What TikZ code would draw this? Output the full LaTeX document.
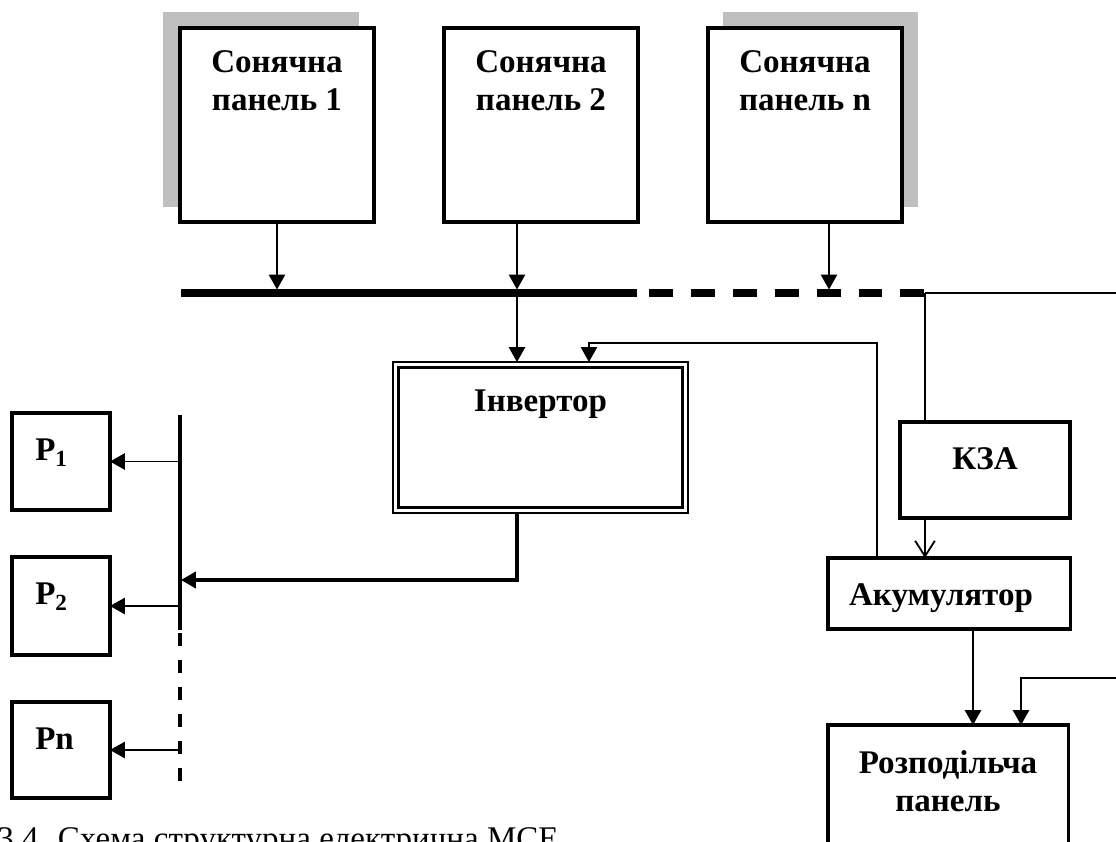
\documentclass[tikz,border=0pt]{standalone}
\usepackage{fontspec}
\setmainfont{Liberation Serif}
\usetikzlibrary{arrows.meta}
\usetikzlibrary{calc}
\tikzset{blok/.style={draw, line width=2.2pt, fill=white, inner sep=0pt, outer sep=0pt},
 napys/.style={font=\bfseries\fontsize{23.5}{27}\selectfont, align=center, inner sep=0pt, anchor=north},
 tin/.style={fill=black!25, inner sep=0pt, outer sep=0pt},
 strilka/.style={line width=1.3pt, -{Triangle[width=11.5pt,length=10.5pt]}},
 vidkryta/.style={line width=1.3pt, -{Straight Barb[width=14pt,length=11pt]}},
 tonka/.style={line width=1pt},
 }

\begin{document}
\begin{tikzpicture}[x=0.025cm, y=-0.025cm]
        \useasboundingbox (0,0) rectangle (1116,841);

        \node[tin, minimum width=4.9cm, minimum height=4.875cm] (tin1) at (261,109.5) {};
        \node[tin, minimum width=4.875cm, minimum height=4.875cm] (tinn) at (820.5,109.5) {};
        \node[blok, minimum width=4.85cm, minimum height=4.85cm] (sp1) at (277,125) {};
        \node[blok, minimum width=4.85cm, minimum height=4.85cm] (sp2) at (541,125) {};
        \node[blok, minimum width=4.85cm, minimum height=4.85cm] (spn) at (805,125) {};
        \node[napys] (t1) at ($(sp1.north)+(0,22)$) {Сонячна\\панель 1};
        \node[napys] (t2) at ($(sp2.north)+(0,22)$) {Сонячна\\панель 2};
        \node[napys] (tn) at ($(spn.north)+(0,22)$) {Сонячна\\панель n};

        \coordinate (shA) at (181,293);
        \coordinate (shB) at (637,293);
        \coordinate (shB2) at (649,293);
        \coordinate (shC) at (925,293);
        \coordinate (shD) at (1116,293);
        \coordinate (vuzol) at (517,293);
        \draw[line width=5pt] (shA) -- (shB);
        \draw[line width=5pt, dash pattern=on 17pt off 12.8pt] (shB2) -- (shC);
        \draw[tonka] (shC) -- (shD);

        \draw[strilka, shorten >=2.5pt] (sp1.south) -- (sp1.south |- shA);
        \draw[strilka, shorten >=2.5pt] ($(sp2.south)+(-24,0)$) -- (vuzol);
        \draw[strilka, shorten >=2.5pt] ($(spn.south)+(24,0)$) coordinate (vn) -- (vn |- shA);

        \node[blok, line width=1.2pt, minimum width=7.375cm, minimum height=3.775cm] (inv) at (540.5,437.5) {};
        \draw[line width=2.2pt] ($(inv.north west)+(5.5,5.5)$) rectangle ($(inv.south east)+(-5.5,-5.5)$);
        \node[napys] (tinv) at ($(inv.north)+(0,28)$) {Інвертор};
        \draw[strilka] (vuzol) -- (vuzol |- inv.north);

        \node[blok, minimum width=4.25cm, minimum height=2.4cm] (kza) at (985,470) {};
        \node[napys] (tkza) at ($(kza.north)+(0,25)$) {КЗА};
        \node[blok, minimum width=6.05cm, minimum height=1.775cm] (akum) at (949,593.5) {};
        \node[napys] (takum) at ($(akum.north)+(-8,25)$) {Акумулятор};
        \node[blok, minimum width=6cm, minimum height=3.875cm] (rozp) at (948,802.5) {};
        \node[napys] (trozp) at ($(rozp.north)+(0,25)$) {Розподільча\\панель};

        \draw[tonka] (shC) -- (shC |- kza.north);
        \draw[vidkryta] ($(kza.south west)+(25,0)$) coordinate (kz) -- (kz |- akum.north);
        \draw[tonka, -{Triangle[width=11.5pt,length=10.5pt]}] ($(akum.north west)+(49,0)$) |- ($(inv.north west)+(196,-19)$) -- ($(inv.north west)+(196,0)$);
        \draw[strilka] ($(akum.south)+(24,0)$) coordinate (ak) -- (ak |- rozp.north);
        \coordinate (pravyi) at (1116,678);
        \draw[strilka] (pravyi) -| ($(rozp.north)+(73,0)$);

        \coordinate (lb1) at (180,415);
        \coordinate (lb2) at (180,630);
        \coordinate (lb2b) at (180,633);
        \coordinate (lb3) at (180,787);
        \coordinate (vhid) at (181,580);
        \draw[line width=2.2pt] (lb1) -- (lb2);
        \draw[line width=2.2pt, dash pattern=on 9.2pt off 10pt] (lb2b) -- (lb3);
        \draw[line width=2.2pt, -{Triangle[width=11.5pt,length=10.5pt]}] ($(inv.south)+(-23.5,0)$) |- (vhid);

        \node[blok, minimum width=2.45cm, minimum height=2.425cm] (p1) at (61,461.5) {};
        \node[blok, minimum width=2.45cm, minimum height=2.45cm] (p2) at (61,606) {};
        \node[blok, minimum width=2.45cm, minimum height=2.4cm] (pn) at (61,750) {};
        \node[napys, anchor=north west] (tp1) at ($(p1.north west)+(23,26)$) {P\textsubscript{1}};
        \node[napys, anchor=north west] (tp2) at ($(p2.north west)+(23,26)$) {P\textsubscript{2}};
        \node[napys, anchor=north west] (tpn) at ($(pn.north west)+(23,26)$) {Pn};
        \draw[strilka] (p1.east -| lb1) -- (p1.east);
        \draw[strilka] (p2.east -| lb1) -- (p2.east);
        \draw[strilka] (pn.east -| lb1) -- (pn.east);

        \node[anchor=base west, inner sep=0pt, font=\fontsize{23.5}{27}\selectfont] (pidpys) at (-3,849) {3.4. Схема структурна електрична МСЕ};
\end{tikzpicture}
\end{document}
